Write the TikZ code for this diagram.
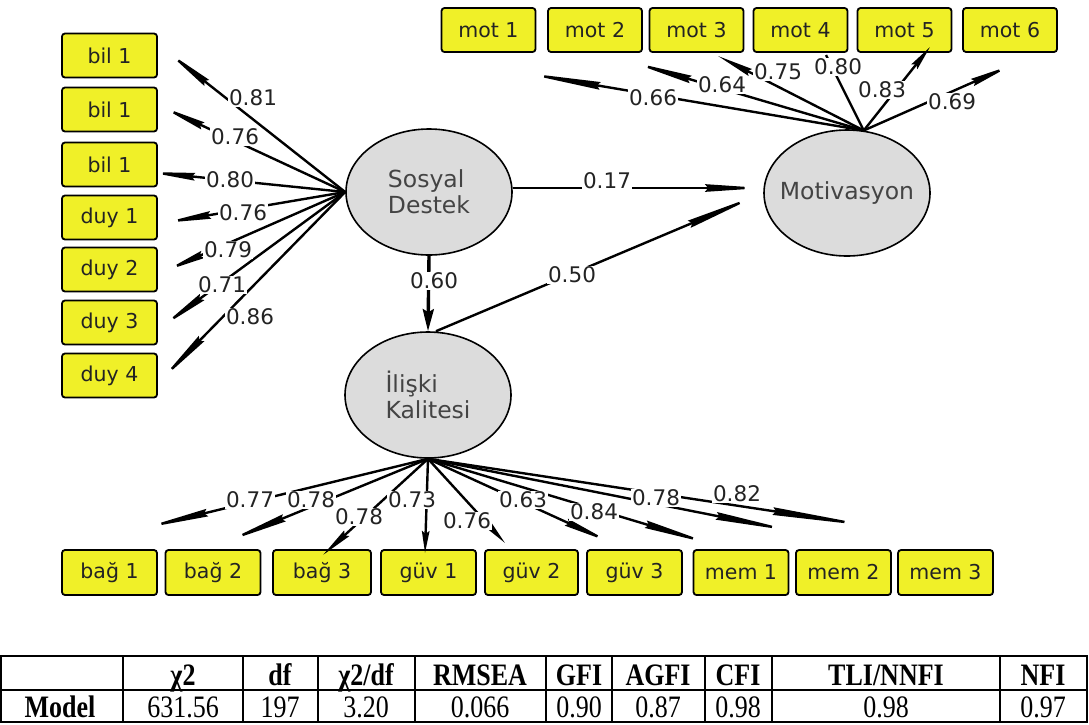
\documentclass[tikz,border=0pt]{standalone}
\usepackage{graphicx}
\usepackage{fontspec}
\setmainfont{DejaVu Sans}
\newfontfamily\tabfont{Liberation Serif}
\usetikzlibrary{arrows.meta,shapes.geometric}
\definecolor{boxyellow}{RGB}{240,240,40}
\definecolor{latgray}{RGB}{220,220,220}
\definecolor{txt}{RGB}{35,35,35}
\newcommand{\tall}[1]{\scalebox{1}[1.2]{#1}}
\begin{document}
\begin{tikzpicture}[x=1pt,y=-1pt,
  ind/.style={draw=black, line width=1.8pt, fill=boxyellow, rounded corners=3pt,
    minimum width=95pt, minimum height=44pt, inner sep=0pt,
    font=\fontsize{20.5}{22}\selectfont, text=txt},
  lat/.style={ellipse, draw=black, line width=1.6pt, fill=latgray,
    minimum width=166pt, minimum height=126pt, inner xsep=-30pt, inner ysep=-10pt,
    text=txt!85, font=\fontsize{23.5}{26}\selectfont, align=left},
  ln/.style={line width=2.4pt, draw=black},
  ar/.style={-{Stealth[length=#1,width=7.5pt,inset=3pt]}},
  ar/.default=40pt,
  lab/.style={fill=white, inner sep=1pt, text=txt, font=\fontsize{21.5}{22}\selectfont},
  tb/.style={line width=1.2pt},
  th/.style={font=\tabfont\bfseries\fontsize{26}{27}\selectfont, anchor=base},
  td/.style={font=\tabfont\fontsize{26}{27}\selectfont, anchor=base}
  ]
\useasboundingbox (0,0) rectangle (1089,724);

% latent variables
\node[lat] (sd)  at (429,192) {Sosyal\\Destek};
\node[lat] (mot) at (847,193) {Motivasyon};
\node[lat] (ik)  at (428,395) {İlişki\\Kalitesi};

% left indicators
\node[ind] (b1) at (109.5,55.5) {bil 1};
\node[ind] (b2) at (109.5,109.5) {bil 1};
\node[ind] (b3) at (109.5,164.5) {bil 1};
\node[ind] (d1) at (109.5,217.5) {duy 1};
\node[ind] (d2) at (109.5,269.5) {duy 2};
\node[ind] (d3) at (109.5,322.5) {duy 3};
\node[ind] (d4) at (109.5,375.5) {duy 4};

% top indicators
\node[ind, minimum width=94pt] (m1) at (488.5,30) {mot 1};
\node[ind, minimum width=94pt] (m2) at (595,30) {mot 2};
\node[ind, minimum width=94pt] (m3) at (696.5,30) {mot 3};
\node[ind, minimum width=94pt] (m4) at (800.5,30) {mot 4};
\node[ind, minimum width=94pt] (m5) at (904.5,30) {mot 5};
\node[ind, minimum width=94pt] (m6) at (1010,30) {mot 6};

% bottom indicators
\node[ind, minimum height=45pt] (g1) at (109.5,572.5) {bağ 1};
\node[ind, minimum height=45pt] (g2) at (213,572.5) {bağ 2};
\node[ind, minimum height=45pt, minimum width=98pt] (g3) at (322,572.5) {bağ 3};
\node[ind, minimum height=45pt] (v1) at (428.5,572.5) {güv 1};
\node[ind, minimum height=45pt, minimum width=93pt] (v2) at (531.5,572.5) {güv 2};
\node[ind, minimum height=45pt] (v3) at (634.5,572.5) {güv 3};
\node[ind, minimum height=45pt] (e1) at (741,572.5) {mem 1};
\node[ind, minimum height=45pt] (e2) at (843.5,572.5) {mem 2};
\node[ind, minimum height=45pt] (e3) at (945.5,572.5) {mem 3};

% free ends
\coordinate (eb1) at (165,50);
\coordinate (eb2) at (160,106);
\coordinate (eb3) at (148,172);
\coordinate (ed1) at (163,223);
\coordinate (ed2) at (165,271);
\coordinate (ed3) at (160,328);
\coordinate (ed4) at (158,383);
\coordinate (em1) at (518,72);
\coordinate (em2) at (628,61);
\coordinate (em3) at (718,56);
\coordinate (em4) at (826,55);
\coordinate (em5) at (930,47);
\coordinate (em6) at (1012,65);
\coordinate (eg1) at (140,529);
\coordinate (eg2) at (223,543);
\coordinate (eg3) at (323,555);
\coordinate (ev1) at (425,553);
\coordinate (ev2) at (505,543);
\coordinate (ev3) at (612,543);
\coordinate (ee1) at (715,545);
\coordinate (ee2) at (798,532);
\coordinate (ee3) at (878,527);

% Sosyal Destek loadings
\draw[ln, ar=53pt] (sd.west) -- (eb1);
\draw[ln, ar=47pt] (sd.west) -- (eb2);
\draw[ln, ar=47pt] (sd.west) -- (eb3);
\draw[ln, ar=48pt] (sd.west) -- (ed1);
\draw[ln, ar=41pt] (sd.west) -- (ed2);
\draw[ln, ar=52pt] (sd.west) -- (ed3);
\draw[ln, ar=62pt] (sd.west) -- (ed4);

% Motivasyon loadings
\draw[ln, ar=83pt] (mot.75) -- (em1);
\draw[ln, ar=65pt] (mot.75) -- (em2);
\draw[ln, ar=36pt] (mot.75) -- (em3);
\draw[ln] (mot.75) -- (em4);
\draw[ln, ar=25pt] (mot.75) -- (em5);
\draw[ln, ar=43pt] (mot.75) -- (em6);

% Iliski Kalitesi loadings
\draw[ln, ar=69pt] (ik.south) -- (eg1);
\draw[ln, ar=66pt] (ik.south) -- (eg2);
\draw[ln, ar=32pt] (ik.south) -- (eg3);
\draw[ln, ar=22pt] (ik.south) -- (ev1);
\draw[ln, ar=25pt] (ik.south) -- (ev2);
\draw[ln, ar=50pt] (ik.south) -- (ev3);
\draw[ln, ar=72pt] (ik.south) -- (ee1);
\draw[ln, ar=83pt] (ik.south) -- (ee2);
\draw[ln, ar=106pt] (ik.south) -- (ee3);

% structural paths
\draw[ln, ar=58pt] (sd.east |- 0,188) -- (mot.west |- 0,188);
\draw[ln, line width=3.4pt, -{Stealth[length=22pt,width=11pt,inset=3pt]}] (sd.south) -- (ik.north);
\draw[ln, ar=80pt] (ik.north) ++(8,0) -- (mot.west);

% labels
\node[lab] (l1) at (253,98) {0.81};
\node[lab] (l2) at (235,137) {0.76};
\node[lab] (l3) at (230,180) {0.80};
\node[lab] (l4) at (243,213) {0.76};
\node[lab] (l5) at (228,250) {0.79};
\node[lab] (l6) at (222,285) {0.71};
\node[lab] (l7) at (250,317) {0.86};
\node[lab] (l8) at (653,98) {0.66};
\node[lab] (l9) at (722,85) {0.64};
\node[lab] (l10) at (778,72) {0.75};
\node[lab] (l11) at (838,67) {0.80};
\node[lab] (l12) at (882,90) {0.83};
\node[lab] (l13) at (952,102) {0.69};
\node[lab] (l14) at (607,181) {0.17};
\node[lab] (l15) at (434,281) {0.60};
\node[lab] (l16) at (572,275) {0.50};
\node[lab] (l17) at (250,500) {0.77};
\node[lab] (l18) at (311,500) {0.78};
\node[lab] (l19) at (359,517) {0.78};
\node[lab] (l20) at (412,500) {0.73};
\node[lab] (l21) at (467,521) {0.76};
\node[lab] (l22) at (523,500) {0.63};
\node[lab] (l23) at (594,512) {0.84};
\node[lab] (l24) at (656,498) {0.78};
\node[lab] (l25) at (737,494) {0.82};

% fit table
\draw[tb] (1,656) rectangle (1087,722);
\draw[tb] (1,690) -- (1087,690);
\foreach \x in {123,243,318,415,546,612,705,772,1000}
  \draw[tb] (\x,656) -- (\x,722);
\node[th] (h1) at (183,685) {\tall{χ2}};
\node[th] (h2) at (280,685) {\tall{df}};
\node[th] (h3) at (366,685) {\tall{χ2/df}};
\node[th] (h4) at (480,685) {\tall{RMSEA}};
\node[th] (h5) at (579,685) {\tall{GFI}};
\node[th] (h6) at (658,685) {\tall{AGFI}};
\node[th] (h7) at (738,685) {\tall{CFI}};
\node[th] (h8) at (886,685) {\tall{TLI/NNFI}};
\node[th] (h9) at (1043,685) {\tall{NFI}};
\node[th] (r0) at (60,717) {\tall{Model}};
\node[td] (r1) at (183,717) {\tall{631.56}};
\node[td] (r2) at (280,717) {\tall{197}};
\node[td] (r3) at (366,717) {\tall{3.20}};
\node[td] (r4) at (480,717) {\tall{0.066}};
\node[td] (r5) at (579,717) {\tall{0.90}};
\node[td] (r6) at (658,717) {\tall{0.87}};
\node[td] (r7) at (738,717) {\tall{0.98}};
\node[td] (r8) at (886,717) {\tall{0.98}};
\node[td] (r9) at (1043,717) {\tall{0.97}};
\end{tikzpicture}
\end{document}
